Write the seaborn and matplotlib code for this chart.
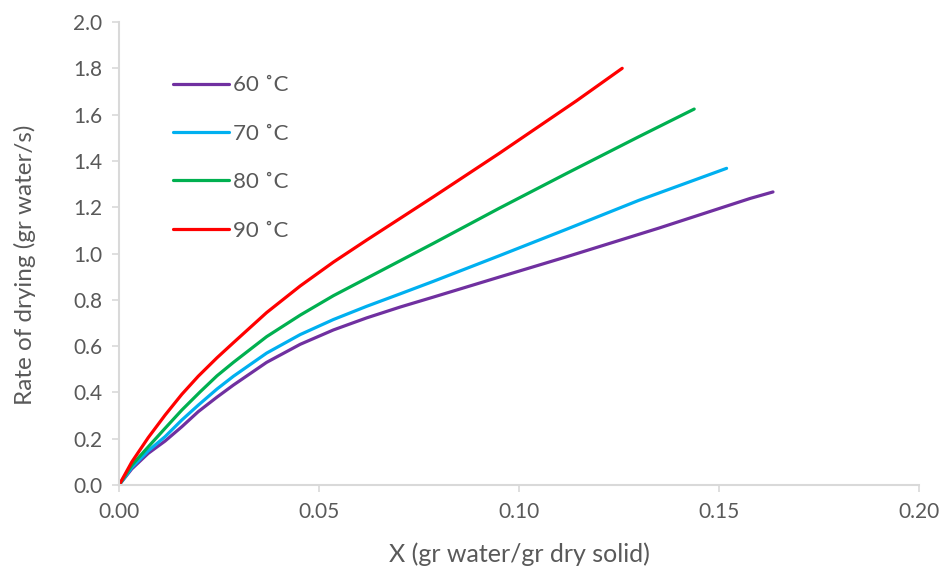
import pandas as pd
import matplotlib.pyplot as plt
import seaborn as sns

# values
x_60 = [0.0, 0.0032, 0.0073, 0.0115, 0.0157, 0.0198, 0.0245, 0.0286, 0.0369, 0.0453,
        0.0536, 0.0619, 0.0703, 0.0786, 0.0950, 0.1119, 0.1350, 0.1578, 0.1635]
y_60 = [0.0, 0.070, 0.137, 0.190, 0.252, 0.317, 0.380, 0.432, 0.530, 0.608,
        0.670, 0.722, 0.769, 0.812, 0.898, 0.986, 1.110, 1.238, 1.266]

x_70 = [0.0, 0.0032, 0.0073, 0.0115, 0.0157, 0.0198, 0.0245, 0.0286, 0.0369, 0.0453,
        0.0536, 0.0619, 0.0703, 0.0786, 0.0950, 0.1119, 0.1300, 0.1519]
y_70 = [0.0, 0.076, 0.148, 0.209, 0.281, 0.345, 0.415, 0.470, 0.570, 0.650,
        0.715, 0.772, 0.826, 0.880, 0.990, 1.105, 1.230, 1.368]

x_80 = [0.0, 0.0032, 0.0073, 0.0115, 0.0157, 0.0203, 0.0245, 0.0286, 0.0369, 0.0453,
        0.0536, 0.0619, 0.0703, 0.0786, 0.0950, 0.1119, 0.1300, 0.1438]
y_80 = [0.0, 0.086, 0.165, 0.245, 0.324, 0.403, 0.472, 0.530, 0.641, 0.734,
        0.818, 0.893, 0.969, 1.044, 1.195, 1.346, 1.505, 1.624]

x_90 = [0.0, 0.0032, 0.0073, 0.0115, 0.0157, 0.0198, 0.0245, 0.0286, 0.0369, 0.0453,
        0.0536, 0.0619, 0.0703, 0.0786, 0.0950, 0.1144, 0.1258]
y_90 = [0.0, 0.100, 0.205, 0.302, 0.392, 0.470, 0.550, 0.615, 0.745, 0.860,
        0.963, 1.058, 1.152, 1.245, 1.432, 1.660, 1.800]

labels = ['60 ˚C', '70 ˚C', '80 ˚C', '90 ˚C']
colors = ['#7030A0', '#00B0F0', '#00B050', '#FF0000']

frames = []
for lab, xs, ys in zip(labels, [x_60, x_70, x_80, x_90], [y_60, y_70, y_80, y_90]):
    frames.append(pd.DataFrame({'X': xs, 'Rate': ys, 'T': lab}))
data = pd.concat(frames, ignore_index=True)

sns.set_style('white')
plt.rcParams['font.family'] = ['Lato', 'DejaVu Sans']

grey = '#595959'
spine = '#D9D9D9'

fig = plt.figure(figsize=(9.47, 5.7), dpi=100)
ax = fig.add_axes([0.1257, 0.149, 0.8447, 0.8124])

sns.lineplot(data=data, x='X', y='Rate', hue='T', palette=colors, sort=False,
             linewidth=2.3, estimator=None, ax=ax,
             solid_joinstyle='round', solid_capstyle='round')

ax.set_xlim(0, 0.20)
ax.set_ylim(0, 2.0)
ax.set_xticks([0.0, 0.05, 0.10, 0.15, 0.20])
ax.set_xticklabels(['0.00', '0.05', '0.10', '0.15', '0.20'])
ax.set_yticks([i * 0.2 for i in range(11)])
ax.set_yticklabels([f'{i * 0.2:.1f}' for i in range(11)])

ax.set_xlabel('X (gr water/gr dry solid)', fontsize=18, color=grey, labelpad=15)
ax.set_ylabel('Rate of drying (gr water/s)', fontsize=17.5, color=grey)
ax.yaxis.set_label_coords(-0.104, 0.475)
ax.tick_params(axis='both', labelsize=15, colors=grey, length=5, width=1.2,
               direction='out', color=spine, pad=7)
ax.tick_params(axis='x', bottom=True)
ax.tick_params(axis='y', left=True)

for s in ['top', 'right']:
    ax.spines[s].set_visible(False)
for s in ['left', 'bottom']:
    ax.spines[s].set_color(spine)
    ax.spines[s].set_linewidth(1.5)

leg = ax.legend(loc='upper left', bbox_to_anchor=(0.043, 0.928), frameon=False,
                fontsize=16, handlelength=2.5, labelspacing=1.28, handletextpad=0.2)
for t in leg.get_texts():
    t.set_color(grey)

fig.savefig('out.png', dpi=100)
